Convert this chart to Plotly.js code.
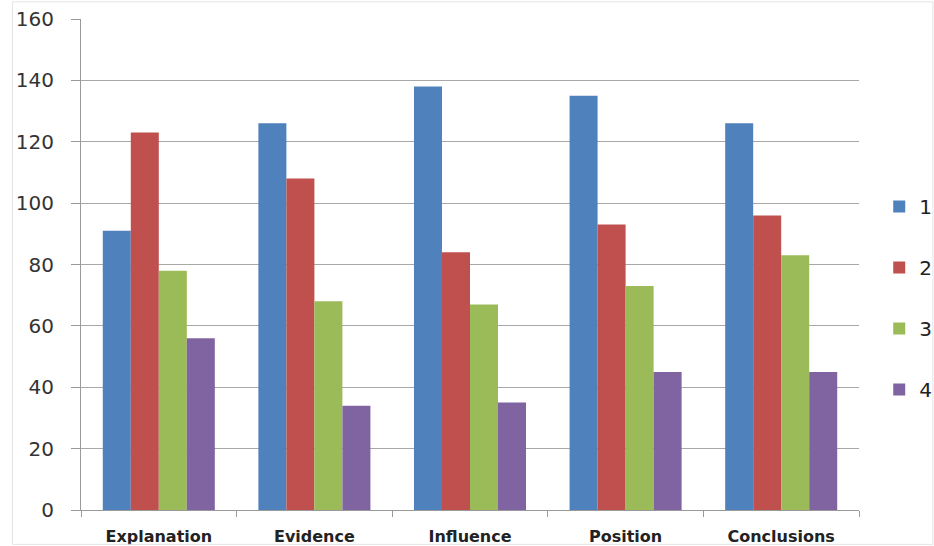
<!DOCTYPE html>
<html><head><meta charset="utf-8">
<script src="https://cdn.plot.ly/plotly-3.0.1.min.js"></script>
<style>html,body{margin:0;padding:0;background:#fff}#chart{width:934px;height:546px}</style>
</head><body><div id="chart"></div>
<script>
const categories = ["Explanation", "Evidence", "Influence", "Position", "Conclusions"];
const seriesNames = ["1", "2", "3", "4"];
const series1 = [91, 126, 138, 135, 126];
const series2 = [123, 108, 84, 93, 96];
const series3 = [78, 68, 67, 73, 83];
const series4 = [56, 34, 35, 45, 45];
const yTicks = [0, 20, 40, 60, 80, 100, 120, 140, 160];

const colors = ["#4F81BD", "#C0504D", "#9BBB59", "#8064A2"];
const allSeries = [series1, series2, series3, series4];
const data = allSeries.map((s, i) => ({
  type: "bar", x: categories, y: s, name: seriesNames[i],
  legendgroup: "g" + i,
  marker: {color: colors[i], line: {width: 0}}
}));

const layout = {
  width: 934, height: 546,
  margin: {l: 81, r: 75, t: 19, b: 36, autoexpand: false},
  paper_bgcolor: "#fff", plot_bgcolor: "#fff",
  barmode: "group", bargap: 0.28, bargroupgap: 0,
  font: {family: "DejaVu Sans, sans-serif", color: "#222"},
  xaxis: {
    type: "category", showgrid: false, showline: true, linecolor: "#9a9a9a", linewidth: 1,
    ticks: "outside", tickson: "boundaries", ticklen: 6, tickcolor: "#9a9a9a",
    tickfont: {family: "DejaVu Sans, sans-serif", size: 16, color: "#222", weight: "bold"},
    ticklabelstandoff: 12
  },
  yaxis: {
    range: [0, 160], tickvals: yTicks, ticktext: yTicks.map(String),
    showgrid: true, gridcolor: "#a8a8a8", gridwidth: 1,
    showline: true, linecolor: "#9a9a9a", linewidth: 1,
    ticks: "outside", ticklen: 9, tickcolor: "#9a9a9a",
    tickfont: {family: "DejaVu Sans, sans-serif", size: 20, color: "#333"},
    ticklabelstandoff: 13, zeroline: false
  },
  legend: {
    x: 1.026, y: 0.658, xanchor: "left", yanchor: "top",
    bgcolor: "rgba(0,0,0,0)",
    font: {family: "DejaVu Sans, sans-serif", size: 20, color: "#222"},
    tracegroupgap: 32, itemwidth: 30
  },
  shapes: [{type: "rect", xref: "paper", yref: "paper", x0: -0.088, x1: 1.095, y0: -0.07, y1: 1.035,
    line: {color: "#e4e4e4", width: 1}}]
};
Plotly.newPlot("chart", data, layout, {displayModeBar: false});
</script></body></html>
